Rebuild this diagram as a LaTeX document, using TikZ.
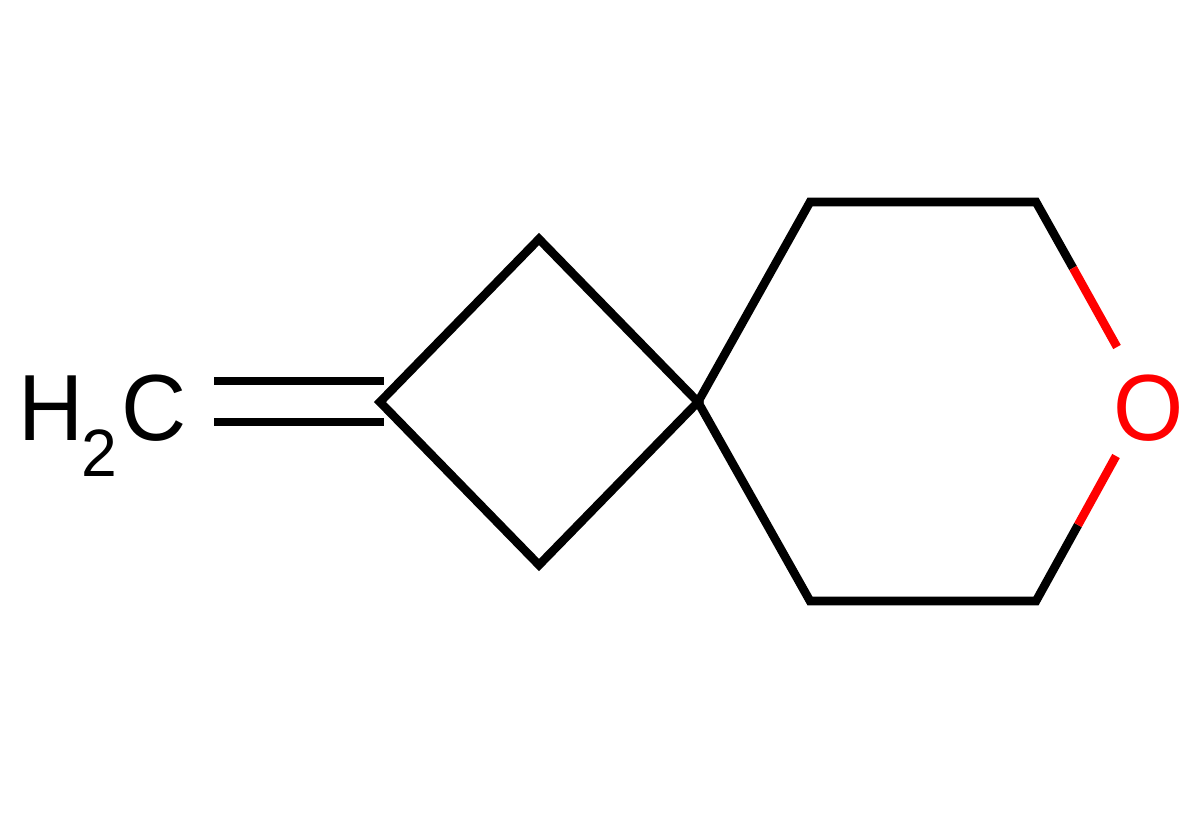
\documentclass[tikz,border=0pt]{standalone}
\usepackage{fontspec}
\setmainfont{Liberation Sans}
\begin{document}
\begin{tikzpicture}[x=1pt,y=-1pt,
  bondk/.style={draw=black,line width=8.6pt,line cap=butt,line join=miter},
  bondr/.style={draw=red,line width=8.6pt,line cap=butt},
  lab/.style={inner sep=0pt,xscale=0.96,font=\fontsize{94}{94}\selectfont}]
\useasboundingbox (0,0) rectangle (1190,838);
\coordinate (c1) at (380,402);
\coordinate (c2) at (539,239);
\coordinate (c3) at (539,565);
\coordinate (s) at (698,402);
\coordinate (c4) at (810,202);
\coordinate (c5) at (1036,202);
\coordinate (c6) at (1036,601);
\coordinate (c7) at (810,601);
\coordinate (m1) at (1073,268);
\coordinate (o1) at (1117,347);
\coordinate (m2) at (1078,525);
\coordinate (o2) at (1116,456);
\coordinate (d1a) at (214,381);
\coordinate (d1b) at (384,381);
\coordinate (d2a) at (214,422);
\coordinate (d2b) at (384,422);
\draw[bondk] (c1) -- (c2) -- (s) -- (c3) -- cycle;
\draw[bondk] (s) -- (c4) -- (c5) -- (m1);
\draw[bondk] (s) -- (c7) -- (c6) -- (m2);
\draw[bondr] (m1) -- (o1);
\draw[bondr] (m2) -- (o2);
\draw[bondk] (d1a) -- (d1b);
\draw[bondk] (d2a) -- (d2b);
\node[lab,text=red,anchor=base] (o) at (1148.5,440) {O};
\node[lab,text=black,anchor=base west] (h) at (18.5,440) {H};
\node[lab,text=black,anchor=base west,font=\fontsize{67}{67}\selectfont] (two) at (81,476) {2};
\node[lab,text=black,anchor=base west] (cc) at (121,440) {C};
\end{tikzpicture}
\end{document}
